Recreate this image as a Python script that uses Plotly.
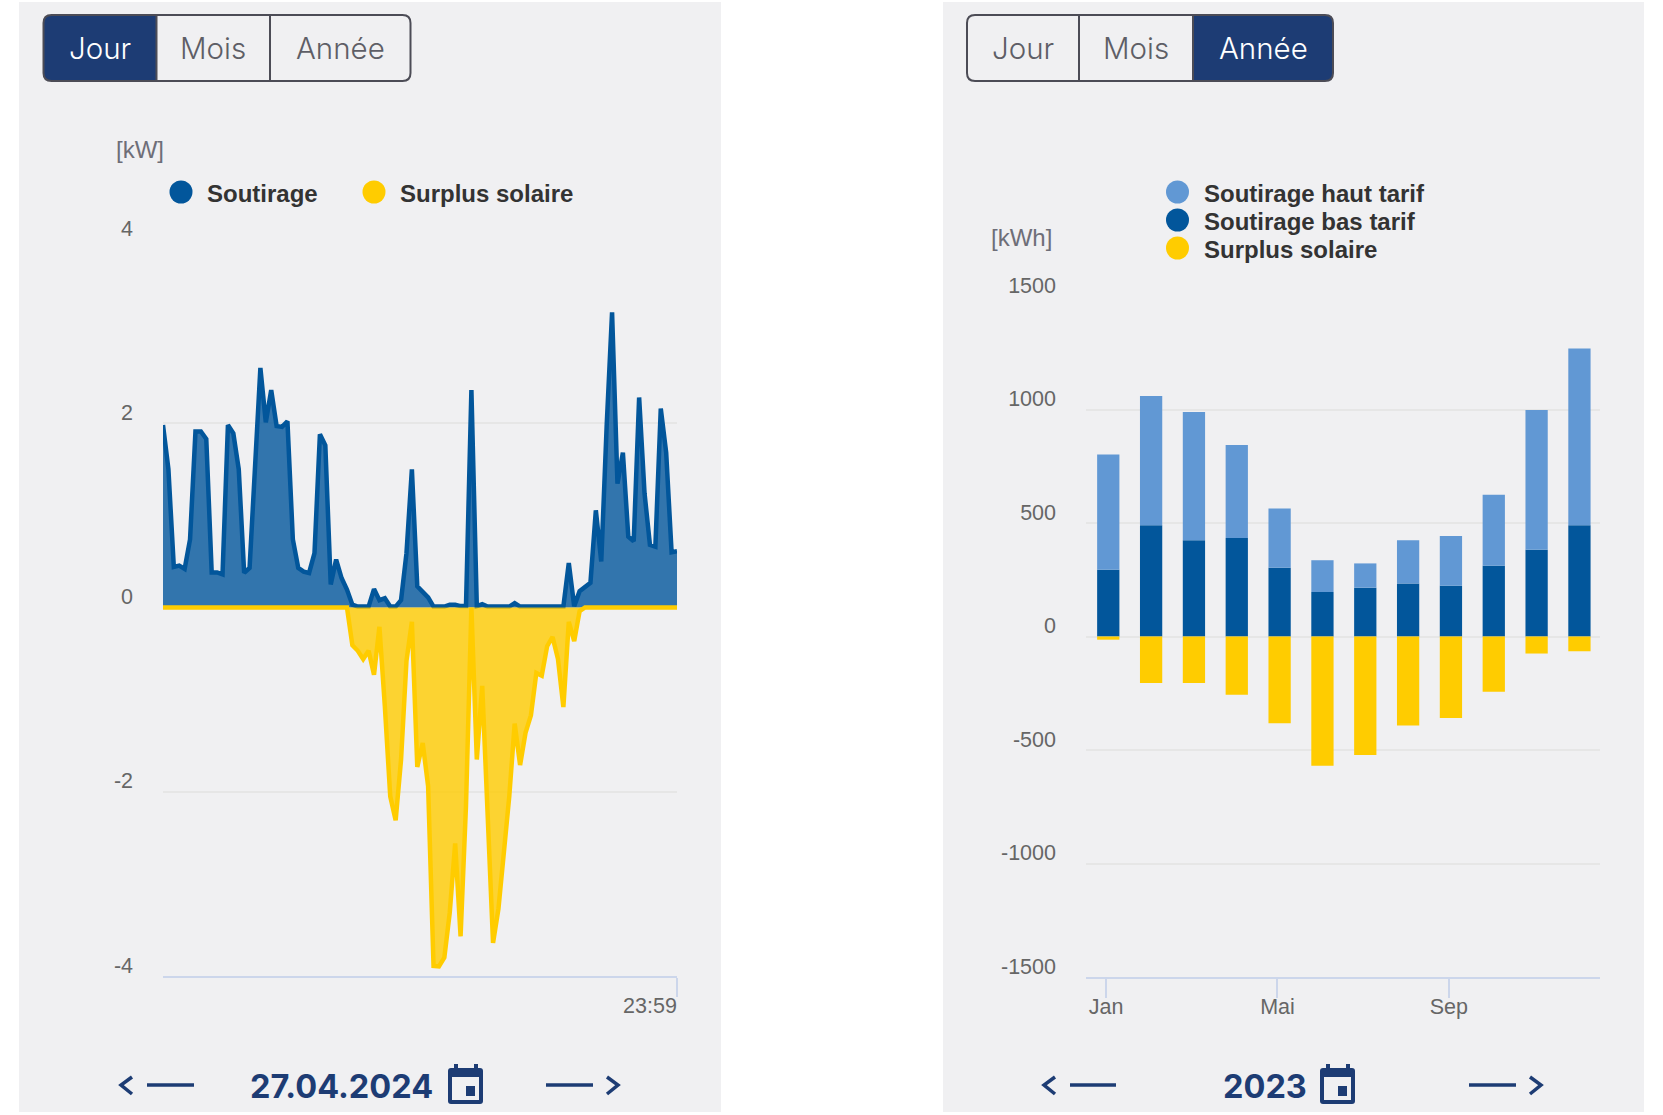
import plotly.graph_objects as go

W, H = 1663, 1115

# ---------- data ----------
soutirage = [1.98,1.50,0.44,0.455,0.42,0.74,1.91,1.91,1.83,0.38,0.38,0.36,1.98,1.89,1.50,0.375,
             0.43,1.50,2.60,2.01,2.36,1.97,1.96,2.02,0.74,0.43,0.39,0.375,0.59,1.88,1.76,0.25,
             0.52,0.32,0.195,0.03,0.01,0.01,0.01,0.20,0.08,0.10,0.01,0.01,0.08,0.59,1.50,0.23,
             0.166,0.11,0.01,0.01,0.01,0.03,0.03,0.015,0.015,2.36,0.015,0.035,0.01,0.01,0.01,0.01,
             0.01,0.047,0.01,0.01,0.01,0.01,0.01,0.01,0.01,0.01,0.01,0.484,0.015,0.177,0.22,0.267,
             1.055,0.50,1.97,3.205,1.344,1.68,0.77,0.72,2.28,1.24,0.68,0.66,2.16,1.68,0.60,0.61]
surplus_jour = [0,0,0,0,0,0,0,0,0,0,0,0,0,0,0,0,
                0,0,0,0,0,0,0,0,0,0,0,0,0,0,0,0,
                0,0,0,-0.41,-0.47,-0.56,-0.47,-0.73,-0.21,-1.07,-2.05,-2.31,-1.65,-0.58,-0.155,-1.73,
                -1.47,-1.94,-3.89,-3.895,-3.80,-3.31,-2.56,-3.57,-2.15,0,-1.65,-0.85,-2.33,-3.64,-3.27,-2.70,
                -2.05,-1.26,-1.71,-1.36,-1.17,-0.71,-0.74,-0.42,-0.32,-0.56,-1.08,-0.155,-0.365,-0.04,0,0,
                0,0,0,0,0,0,0,0,0,0,0,0,0,0,0,0]
quart = list(range(len(soutirage)))

mois = ["Jan","Fév","Mar","Avr","Mai","Juin","Juil","Août","Sep","Oct","Nov","Déc"]
bas_tarif = [294,490,424,434,303,196,215,233,224,312,382,490]
haut_tarif = [508,569,565,410,261,140,107,191,219,313,616,779]
surplus_annee = [-14,-205,-205,-257,-382,-569,-522,-392,-359,-243,-75,-65]

jour_ticks = [-4,-2,0,2,4]
annee_ticks = [-1500,-1000,-500,0,500,1000,1500]
annee_xticks = ["Jan","Mai","Sep"]
boutons = ["Jour","Mois","Année"]

# ---------- colours ----------
BLUE = "#02569b"; LIGHT = "#6198d4"; YEL = "#ffcc00"; NAVY = "#1d3c74"
PANEL = "#f0f0f2"; BORDER = "#4c4c56"; AXIS = "#ccd6eb"; GRID = "#e6e6e6"
HEAD = "Liberation Sans"; UI = "Inter"

def px(x): return x / W
def py(y): return 1 - y / H

def corner_path(x0, y0, x1, y1, rl, rr):
    s = f"M{px(x0+rl)},{py(y0)} L{px(x1-rr)},{py(y0)} "
    s += f"Q{px(x1)},{py(y0)} {px(x1)},{py(y0+rr)} L{px(x1)},{py(y1-rr)} "
    s += f"Q{px(x1)},{py(y1)} {px(x1-rr)},{py(y1)} L{px(x0+rl)},{py(y1)} "
    s += f"Q{px(x0)},{py(y1)} {px(x0)},{py(y1-rl)} L{px(x0)},{py(y0+rl)} "
    s += f"Q{px(x0)},{py(y0)} {px(x0+rl)},{py(y0)} Z"
    return s

shapes, annotations = [], []

def rect(x0, y0, x1, y1, color):
    shapes.append(dict(type="rect", xref="paper", yref="paper", x0=px(x0), x1=px(x1), y0=py(y0), y1=py(y1),
                       fillcolor=color, line=dict(width=0), layer="below"))

def path(d, fill=None, lc=None, lw=0):
    shapes.append(dict(type="path", xref="paper", yref="paper", path=d, fillcolor=fill or "rgba(0,0,0,0)",
                       line=dict(color=lc or "rgba(0,0,0,0)", width=lw), layer="below"))

def seg(x0, y0, x1, y1, color, w):
    shapes.append(dict(type="line", xref="paper", yref="paper", x0=px(x0), x1=px(x1), y0=py(y0), y1=py(y1),
                       line=dict(color=color, width=w), layer="below"))

def text(x, y, s, size, color, family, anchor="center", weight=None):
    f = dict(size=size, color=color, family=family)
    if weight: f["weight"] = weight
    annotations.append(dict(xref="paper", yref="paper", x=px(x), y=py(y), text=s, showarrow=False,
                            xanchor=anchor, yanchor="middle", font=f, borderpad=0))

def dot(cx, cy, color, r=11.5):
    shapes.append(dict(type="circle", xref="paper", yref="paper", x0=px(cx-r), x1=px(cx+r), y0=py(cy-r), y1=py(cy+r),
                       fillcolor=color, line=dict(width=0), layer="below"))

def buttons(xs, active):
    x0, d1, d2, x1 = xs
    edges = [(x0,d1),(d1,d2),(d2,x1)]
    a0, a1 = edges[active]
    path(corner_path(a0, 15, a1, 81, 8 if active==0 else 0, 8 if active==2 else 0), fill=NAVY)
    path(corner_path(x0, 15, x1, 81, 8, 8), lc=BORDER, lw=2)
    seg(d1, 15, d1, 81, BORDER, 2); seg(d2, 15, d2, 81, BORDER, 2)
    for i,(a,b) in enumerate(edges):
        text((a+b)/2, 48.5, boutons[i], 29.5, "#ffffff" if i==active else "#5e5e66", UI, weight=300)

def nav(ch_l, dash_l, dash_r, ch_r, label, label_x, cal_x):
    c0, c1 = ch_l
    path(f"M{px(c1)},{py(1077)} L{px(c0)},{py(1085)} L{px(c1)},{py(1094)}", lc=NAVY, lw=3.5)
    seg(dash_l[0], 1085, dash_l[1], 1085, NAVY, 3.5)
    seg(dash_r[0], 1085, dash_r[1], 1085, NAVY, 3.5)
    c0, c1 = ch_r
    path(f"M{px(c0)},{py(1077)} L{px(c1)},{py(1085)} L{px(c0)},{py(1094)}", lc=NAVY, lw=3.5)
    text(label_x, 1086, label, 32.5, NAVY, "Inter", weight=700)
    # calendar icon
    path(corner_path(cal_x, 1068, cal_x+35, 1104, 3, 3), fill=NAVY)
    rect(cal_x+4, 1077, cal_x+31, 1100, PANEL)
    rect(cal_x+6, 1064, cal_x+10, 1070, NAVY)
    rect(cal_x+26, 1064, cal_x+30, 1070, NAVY)
    rect(cal_x+18, 1086, cal_x+27, 1096, NAVY)

# panels
rect(19, 2, 721, 1112, PANEL)
rect(943, 2, 1644, 1112, PANEL)

buttons((43.5, 156.5, 270, 410.5), 0)
buttons((967, 1079, 1193, 1333), 2)

nav((121,132),(147,194),(546,593),(607,618),"27.04.2024",341,448)
nav((1044,1055),(1070,1116),(1469,1516),(1530,1541),"2023",1265,1320)

# unit labels
text(140, 150, "[kW]", 24, "#6e6e78", HEAD)
text(1021, 237, "[kWh]", 24, "#6e6e78", HEAD)

# legends
for cx, cy, col, tx, lab in [(181,192,BLUE,206,"Soutirage"),(374,192,YEL,399,"Surplus solaire"),
                             (1177.5,192,LIGHT,1202.5,"Soutirage haut tarif"),(1177.5,220,BLUE,1202.5,"Soutirage bas tarif"),
                             (1177.5,248,YEL,1202.5,"Surplus solaire")]:
    dot(cx, cy, col)
    text(tx, cy+1, lab, 24, "#333333", HEAD, anchor="left", weight=700)

fig = go.Figure()

# left chart
fig.add_trace(go.Scatter(x=quart, y=soutirage, name="Soutirage", mode="lines", fill="tozeroy",
                         line=dict(color=BLUE, width=4.5), fillcolor="rgba(2,86,155,0.8)",
                         xaxis="x", yaxis="y", showlegend=False))
fig.add_trace(go.Scatter(x=quart, y=surplus_jour, name="Surplus solaire", mode="lines", fill="tozeroy",
                         line=dict(color=YEL, width=4.5), fillcolor="rgba(255,204,0,0.8)",
                         xaxis="x", yaxis="y", showlegend=False))

# right chart
BARW, BAROFF = 0.52, -0.21
for vals, nm, col in [(bas_tarif,"Soutirage bas tarif",BLUE),(haut_tarif,"Soutirage haut tarif",LIGHT),
                      (surplus_annee,"Surplus solaire",YEL)]:
    fig.add_trace(go.Bar(x=mois, y=vals, name=nm, marker=dict(color=col, line=dict(width=0)),
                         width=BARW, offset=BAROFF, xaxis="x2", yaxis="y2", showlegend=False))

TICK = dict(size=21.5, color="#666666", family=HEAD)
def yaxis(vals, rng, dom, anchor):
    return dict(domain=dom, range=rng, tickvals=vals, ticktext=[str(v) for v in vals], tickfont=TICK,
                showgrid=True, gridcolor=GRID, gridwidth=2, zeroline=False, showline=False, ticks="",
                ticklabelstandoff=29, ticklabelshift=-11, anchor=anchor, automargin=False)

fig.update_layout(
    width=W, height=H, autosize=False, margin=dict(l=0, r=0, t=0, b=0, pad=0),
    paper_bgcolor="#ffffff", plot_bgcolor="rgba(0,0,0,0)", showlegend=False,
    barmode="relative", hovermode=False,
    xaxis=dict(domain=[px(163), px(677)], range=[0, 95], tickvals=[95], ticktext=["23:59"], tickfont=TICK,
               showgrid=False, zeroline=False, showline=True, linecolor=AXIS, linewidth=2,
               ticks="outside", ticklen=19, tickcolor=AXIS, tickwidth=2, ticklabelshift=-27,
               ticklabelstandoff=-10, anchor="y", automargin=False),
    yaxis=yaxis(jour_ticks, [-4, 4], [py(976), py(239)], "x"),
    xaxis2=dict(domain=[px(1086), px(1600)], range=[-0.47, 11.53], type="category", categoryorder="array",
                categoryarray=mois, tickvals=annee_xticks, ticktext=annee_xticks, tickfont=TICK,
                showgrid=False, zeroline=False, showline=True, linecolor=AXIS, linewidth=2,
                ticks="outside", ticklen=19, tickcolor=AXIS, tickwidth=2, ticklabelstandoff=-10,
                anchor="y2", automargin=False),
    yaxis2=yaxis(annee_ticks, [-1500, 1500], [py(977), py(296)], "x2"),
    shapes=shapes, annotations=annotations,
)

fig.write_html("out.html", config={"displayModeBar": False},
               post_script="document.body.style.margin='0';document.body.style.overflow='hidden';")
